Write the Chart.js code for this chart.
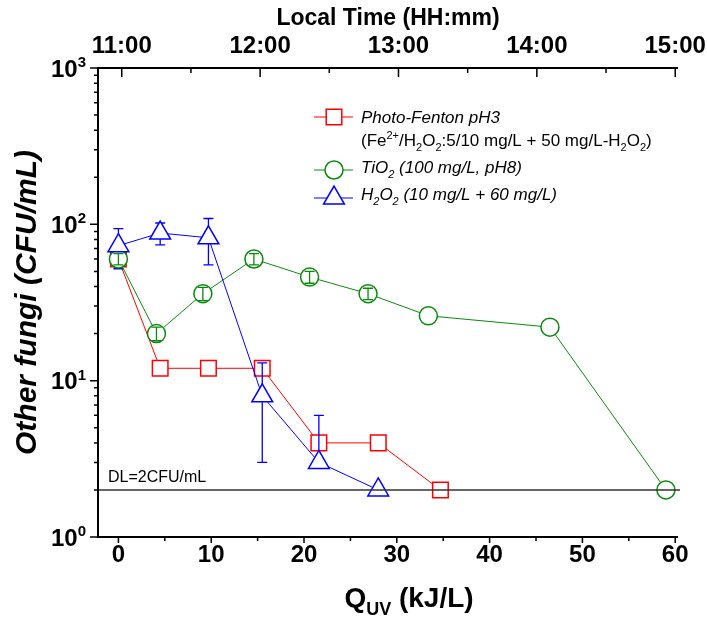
<!DOCTYPE html>
<html>
<head>
<meta charset="utf-8">
<script src="https://cdn.jsdelivr.net/npm/chart.js@4.4.1/dist/chart.umd.min.js"></script>
<style>
  html, body { margin: 0; padding: 0; background: #fff; }
  #wrap { width: 707px; height: 621px; }
</style>
</head>
<body>
<div id="wrap"><canvas id="myChart" width="707" height="621"></canvas></div>
<script>
// =====================
// Data
// =====================
const fentonQ = [0, 4.5, 9.7, 15.5, 21.6, 28.0, 34.7];
const fentonCFU = [60, 12, 12, 12, 4, 4, 2];

const tioQ = [0, 4.1, 9.1, 14.6, 20.6, 26.9, 33.4, 46.5, 59.0];
const tioCFU = [60, 20, 36, 60, 46, 36, 26, 22, 2];
const tioErr = [5, 2, 3.5, 5, 4, 3, 0, 0, 0];

const h2o2Q = [0, 4.5, 9.7, 15.5, 21.6, 28.0];
const h2o2CFU = [73, 88, 82, 8, 3, 2];
const h2o2Err = [21, 14, 27, 5, 3, 0];

const detectionLimit = 2;

const qTicks = [0, 10, 20, 30, 40, 50, 60];
const qMinorTicks = [5, 15, 25, 35, 45, 55];
const hourTicks = [11, 12, 13, 14, 15];
const hourLabels = ['11:00', '12:00', '13:00', '14:00', '15:00'];
const hourMinorTicks = [11.5, 12.5, 13.5, 14.5];
const cfuTicks = [1, 10, 100, 1000];

// axis ranges (the time axis is tied to Q: 11:00 ~ Q 0.36, 15:00 ~ Q 60)
const qMin = -2.2, qMax = 60.3;
const qAt11 = 0.36, qAt15 = 60;
const hoursPerQ = 4 / (qAt15 - qAt11);
const hourMin = 11 + (qMin - qAt11) * hoursPerQ;
const hourMax = 15 + (qMax - qAt15) * hoursPerQ;

const FONT = '"Liberation Sans", Arial, Helvetica, sans-serif';
const RED = '#ff0000', GREEN = '#0a8a0a', BLUE = '#0000ff';

// =====================
// Helpers
// =====================
// parts: [[text, 'sup'|'sub'|undefined], ...]
function drawRich(ctx, parts, x, y, align, size, style) {
    const fontFor = p => `${style} ${p[1] ? Math.round(size * 0.64) : size}px ${FONT}`;
    let w = 0;
    parts.forEach(p => { ctx.font = fontFor(p); w += ctx.measureText(p[0]).width; });
    let cx = align === 'center' ? x - w / 2 : (align === 'right' ? x - w : x);
    ctx.textAlign = 'left';
    ctx.textBaseline = 'alphabetic';
    parts.forEach(p => {
        ctx.font = fontFor(p);
        let dy = 0;
        if (p[1] === 'sup') dy = -size * 0.4;
        if (p[1] === 'sub') dy = size * 0.28;
        ctx.fillText(p[0], cx, y + dy);
        cx += ctx.measureText(p[0]).width;
    });
}

function toPoints(xs, ys) {
    return xs.map((x, i) => ({x: x, y: ys[i]}));
}

function drawErrorBars(chart, dsIndex, errors) {
    const ctx = chart.ctx;
    const ds = chart.data.datasets[dsIndex];
    const meta = chart.getDatasetMeta(dsIndex);
    const yScale = chart.scales.y;
    ctx.save();
    ctx.strokeStyle = ds.borderColor;
    ctx.lineWidth = 1.3;
    meta.data.forEach((pt, i) => {
        const err = errors[i];
        if (!err) return;
        const v = ds.data[i].y;
        const yHi = yScale.getPixelForValue(v + err);
        ctx.beginPath();
        ctx.moveTo(pt.x, pt.y);
        ctx.lineTo(pt.x, yHi);
        ctx.moveTo(pt.x - 5, yHi);
        ctx.lineTo(pt.x + 5, yHi);
        if (v - err > 0) {
            const yLo = yScale.getPixelForValue(v - err);
            ctx.moveTo(pt.x, pt.y);
            ctx.lineTo(pt.x, yLo);
            ctx.moveTo(pt.x - 5, yLo);
            ctx.lineTo(pt.x + 5, yLo);
        }
        ctx.stroke();
    });
    ctx.restore();
}

// =====================
// Frame, ticks, DL line, legend, titles
// =====================
const framePlugin = {
    id: 'frame',
    afterDatasetDraw(chart, args) {
        // blue bars go under the green and blue markers, green bars on top of green markers
        if (args.index === 0) drawErrorBars(chart, 2, h2o2Err);
        if (args.index === 1) drawErrorBars(chart, 1, tioErr);
    },
    afterDatasetsDraw(chart) {
        const ctx = chart.ctx;
        const area = chart.chartArea;
        const x = chart.scales.x, top = chart.scales.xTop, y = chart.scales.y;

        ctx.save();
        // detection limit
        const yDL = y.getPixelForValue(detectionLimit);
        ctx.strokeStyle = '#333';
        ctx.lineWidth = 1.5;
        ctx.beginPath();
        ctx.moveTo(area.left, yDL);
        ctx.lineTo(area.right + 2, yDL);
        ctx.stroke();
        ctx.fillStyle = '#000';
        drawRich(ctx, [['DL=2CFU/mL']], area.left + 10, yDL - 8, 'left', 16, 'normal');

        // axis lines
        ctx.strokeStyle = '#000';
        ctx.lineWidth = 2;
        ctx.beginPath();
        ctx.moveTo(area.left, area.top);
        ctx.lineTo(area.left, area.bottom);
        ctx.moveTo(area.left - 1, area.bottom);
        ctx.lineTo(area.right, area.bottom);
        ctx.moveTo(area.left - 1, area.top);
        ctx.lineTo(area.right, area.top);
        ctx.stroke();

        // ticks
        ctx.lineWidth = 1.5;
        ctx.beginPath();
        qTicks.forEach(v => {
            const px = x.getPixelForValue(v);
            ctx.moveTo(px, area.bottom); ctx.lineTo(px, area.bottom + 6);
        });
        qMinorTicks.forEach(v => {
            const px = x.getPixelForValue(v);
            ctx.moveTo(px, area.bottom); ctx.lineTo(px, area.bottom + 4);
        });
        hourTicks.forEach(v => {
            const px = top.getPixelForValue(v);
            ctx.moveTo(px, area.top); ctx.lineTo(px, area.top + 9);
        });
        hourMinorTicks.forEach(v => {
            const px = top.getPixelForValue(v);
            ctx.moveTo(px, area.top); ctx.lineTo(px, area.top + 5);
        });
        cfuTicks.forEach((v, i) => {
            const py = y.getPixelForValue(v);
            ctx.moveTo(area.left - 8, py); ctx.lineTo(area.left, py);
            if (i < cfuTicks.length - 1) {
                for (let m = 2; m <= 9; m++) {
                    const pm = y.getPixelForValue(v * m);
                    ctx.moveTo(area.left - 4, pm); ctx.lineTo(area.left, pm);
                }
            }
        });
        ctx.stroke();

        // y tick labels with exponent
        ctx.fillStyle = '#000';
        cfuTicks.forEach(v => {
            const py = y.getPixelForValue(v);
            drawRich(ctx, [['10'], [String(Math.round(Math.log10(v))), 'sup']], area.left - 12, py + 8.5, 'right', 24, 'bold');
        });

        // x title
        drawRich(ctx, [['Q'], ['UV', 'sub'], [' (kJ/L)']], 409, 607, 'center', 28, 'bold');

        // legend
        const lx0 = 314, lx1 = 353, mx = 334, tx = 361;
        const rows = [
            {ds: 0, y: 117},
            {ds: 1, y: 170},
            {ds: 2, y: 198}
        ];
        rows.forEach(r => {
            const d = chart.data.datasets[r.ds];
            ctx.strokeStyle = d.borderColor;
            ctx.lineWidth = 1;
            ctx.beginPath();
            ctx.moveTo(lx0, r.y); ctx.lineTo(lx1, r.y);
            ctx.stroke();
            ctx.fillStyle = '#fff';
            ctx.lineWidth = d.pointBorderWidth;
            Chart.helpers.drawPoint(ctx, {pointStyle: d.pointStyle, radius: d.pointRadius, rotation: 0, borderWidth: d.pointBorderWidth}, mx, r.y);
        });
        ctx.fillStyle = '#000';
        drawRich(ctx, [['Photo-Fenton pH3']], tx, 123, 'left', 17, 'italic');
        drawRich(ctx, [['(Fe'], ['2+', 'sup'], ['/H'], ['2', 'sub'], ['O'], ['2', 'sub'], [':5/10 mg/L + 50 mg/L-H'], ['2', 'sub'], ['O'], ['2', 'sub'], [')']], tx, 146, 'left', 17, 'normal');
        drawRich(ctx, [['TiO'], ['2', 'sub'], [' (100 mg/L, pH8)']], tx, 173, 'left', 17, 'italic');
        drawRich(ctx, [['H'], ['2', 'sub'], ['O'], ['2', 'sub'], [' (10 mg/L + 60 mg/L)']], tx, 200, 'left', 17, 'italic');
        ctx.restore();
    }
};

// =====================
// Chart
// =====================
const ctx = document.getElementById('myChart').getContext('2d');
const chart = new Chart(ctx, {
    type: 'line',
    data: {
        datasets: [
            {
                label: 'Photo-Fenton pH3',
                data: toPoints(fentonQ, fentonCFU),
                borderColor: RED,
                pointBorderColor: RED,
                pointBackgroundColor: '#fff',
                pointStyle: 'rect',
                pointRadius: 11,
                pointBorderWidth: 1.5,
                borderWidth: 1,
                xAxisID: 'x',
                yAxisID: 'y',
                order: 2
            },
            {
                label: 'TiO2 (100 mg/L, pH8)',
                data: toPoints(tioQ, tioCFU),
                borderColor: GREEN,
                pointBorderColor: GREEN,
                pointBackgroundColor: '#fff',
                pointStyle: 'circle',
                pointRadius: 9,
                pointBorderWidth: 1.5,
                borderWidth: 1,
                xAxisID: 'x',
                yAxisID: 'y',
                order: 1
            },
            {
                label: 'H2O2 (10 mg/L + 60 mg/L)',
                data: toPoints(h2o2Q, h2o2CFU),
                borderColor: BLUE,
                pointBorderColor: BLUE,
                pointBackgroundColor: '#fff',
                pointStyle: 'triangle',
                pointRadius: 12,
                pointBorderWidth: 1.5,
                borderWidth: 1,
                xAxisID: 'x',
                yAxisID: 'y',
                order: 0
            }
        ]
    },
    options: {
        responsive: false,
        animation: false,
        devicePixelRatio: 1,
        layout: { padding: { left: 0, right: 29, top: 0, bottom: 0 } },
        elements: { line: { tension: 0 } },
        plugins: {
            legend: { display: false },
            tooltip: { enabled: false }
        },
        scales: {
            x: {
                type: 'linear',
                position: 'bottom',
                min: qMin,
                max: qMax,
                afterFit: s => { s.height = 84; s.paddingLeft = 0; s.paddingRight = 0; },
                afterBuildTicks: s => { s.ticks = qTicks.map(v => ({value: v})); },
                grid: { display: false, drawTicks: false },
                border: { display: false },
                ticks: {
                    color: '#000',
                    padding: 4,
                    maxRotation: 0,
                    autoSkip: false,
                    font: { family: FONT, size: 24, weight: 'bold' }
                }
            },
            xTop: {
                type: 'linear',
                position: 'top',
                min: hourMin,
                max: hourMax,
                afterFit: s => { s.height = 68; s.paddingLeft = 0; s.paddingRight = 0; },
                afterBuildTicks: s => { s.ticks = hourTicks.map(v => ({value: v})); },
                grid: { display: false, drawTicks: false },
                border: { display: false },
                ticks: {
                    color: '#000',
                    padding: 7,
                    maxRotation: 0,
                    autoSkip: false,
                    font: { family: FONT, size: 24, weight: 'bold' },
                    callback: (v, i) => hourLabels[i]
                },
                title: {
                    display: true,
                    text: 'Local Time (HH:mm)',
                    color: '#000',
                    font: { family: FONT, size: 23, weight: 'bold' },
                    padding: { top: 5, bottom: 0 }
                }
            },
            y: {
                type: 'logarithmic',
                min: 1,
                max: 1000,
                afterFit: s => { s.width = 98; },
                afterBuildTicks: s => { s.ticks = cfuTicks.map(v => ({value: v})); },
                grid: { display: false, drawTicks: false },
                border: { display: false },
                ticks: { display: false },
                title: {
                    display: true,
                    text: 'Other fungi (CFU/mL)',
                    color: '#000',
                    font: { family: FONT, size: 30, weight: 'bold', style: 'italic' },
                    padding: { top: 10, bottom: 0 }
                }
            }
        }
    },
    plugins: [framePlugin]
});
</script>
</body>
</html>
